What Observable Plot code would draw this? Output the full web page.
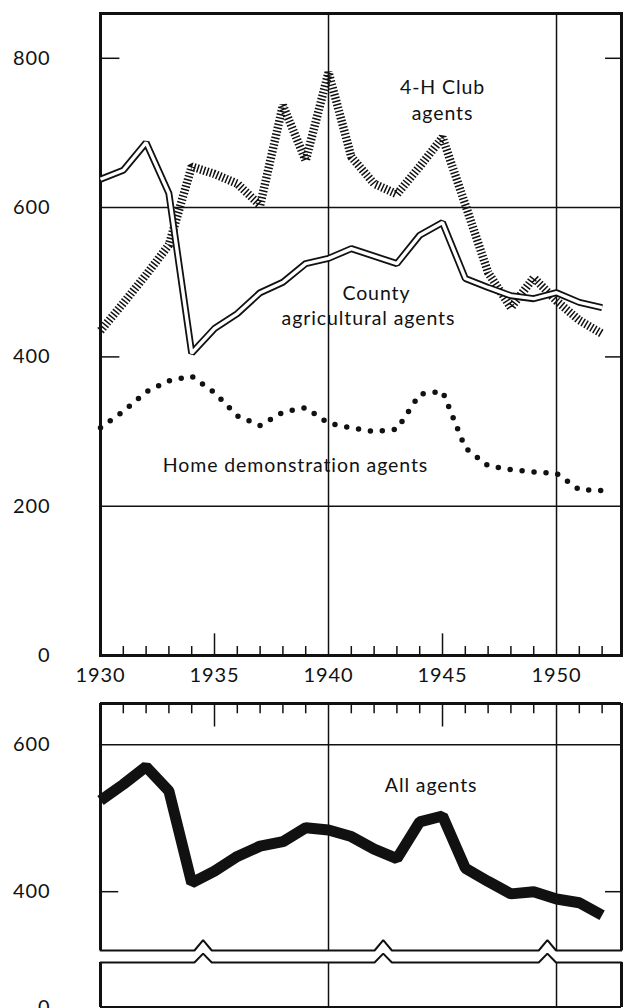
<!DOCTYPE html>
<html><head><meta charset="utf-8">
<script src="https://cdn.jsdelivr.net/npm/d3@7"></script>
<script src="https://cdn.jsdelivr.net/npm/@observablehq/plot@0.6"></script>
<style>
html,body{margin:0;padding:0;background:#fff;overflow:hidden;width:623px;height:1008px;}
#wrap{position:relative;width:623px;height:1008px;}
#wrap svg{position:absolute;left:0;}
svg text{letter-spacing:0.9px;}
</style></head><body><div id="wrap"></div>
<script>
// ---- data ----
const years = [1930,1931,1932,1933,1934,1935,1936,1937,1938,1939,1940,1941,1942,1943,1944,1945,1946,1947,1948,1949,1950,1951,1952];
const countyAgents = [638,650,687,619,405,438,458,486,500,525,532,545,535,525,563,580,505,493,482,478,486,473,466];
const clubAgents   = [435,472,510,550,655,645,632,603,737,663,781,668,632,618,655,694,604,513,466,506,475,449,431];
const homeAgents   = [305,327,353,368,374,352,321,308,326,332,311,305,300,303,350,354,278,254,249,246,244,222,221];
const allAgents    = [524,546,570,537,412,428,448,462,468,487,484,475,458,445,495,503,432,414,397,400,390,385,368];
const xTickLabels = [1930,1935,1940,1945,1950];
const gridYears = [1940,1950];
const midYears = [1935,1945];
const yTicksTop = [0,200,400,600,800];
const yGridTop = [600,200];
const yShortTop = [800,400];
const yTicksAll = [400,600];
const yGridAll = [600];
const yShortAll = [400];
const breakYears = [1934.5,1942.4,1949.6];

// ---- helpers ----
const xDomain = [1930, 1952.85];
const series = vals => years.map((y,i)=>({year:y, v:vals[i]}));
const minorYears = years.filter(y => y !== 1930 && !xTickLabels.includes(y));
const ink = "#111";
const labelSize = 19.5;
const style = {fontFamily:"Lato, 'Open Sans', sans-serif", fontSize:"20px", color:ink, background:"transparent", overflow:"visible"};
const breakPts = (base, h) => {
  const pts = [{x:xDomain[0], y:base}];
  breakYears.forEach(b => { pts.push({x:b-0.38,y:base},{x:b,y:base+h},{x:b+0.38,y:base}); });
  pts.push({x:xDomain[1], y:base});
  return pts;
};
const wrap = document.getElementById("wrap");

// ---- top chart ----
const topChart = Plot.plot({
  width:623, height:690, marginLeft:100, marginRight:2, marginTop:13, marginBottom:35,
  style,
  x:{domain:xDomain, ticks:xTickLabels, tickFormat:d=>String(d), tickSize:0, tickPadding:12, label:null},
  y:{domain:[0,860], ticks:yTicksTop, tickSize:0, tickPadding:50, label:null},
  marks:[
    Plot.ruleY(yGridTop, {stroke:ink, strokeWidth:1.5}),
    Plot.ruleX(gridYears, {stroke:ink, strokeWidth:1.5}),
    Plot.ruleY(yShortTop, {y:d=>d, x1:xDomain[0], x2:xDomain[0]+0.85, stroke:ink, strokeWidth:1.5}),
    Plot.ruleY(yShortTop, {y:d=>d, x1:xDomain[1]-0.7, x2:xDomain[1], stroke:ink, strokeWidth:1.5}),
    Plot.ruleX(minorYears, {x:d=>d, y1:0, y2:12, stroke:ink, strokeWidth:1.5}),
    Plot.ruleX(midYears, {x:d=>d, y1:0, y2:29, stroke:ink, strokeWidth:1.5}),
    Plot.frame({stroke:ink, strokeWidth:3}),
    Plot.line(series(homeAgents), {x:"year", y:"v", stroke:ink, strokeWidth:5.5, strokeDasharray:"0,12", strokeLinecap:"round"}),
    Plot.line(series(clubAgents), {x:"year", y:"v", stroke:ink, strokeWidth:8.5, strokeDasharray:"1.5,1.9", strokeLinecap:"butt", strokeLinejoin:"miter"}),
    Plot.line(series(countyAgents), {x:"year", y:"v", stroke:ink, strokeWidth:7, strokeLinecap:"butt", strokeLinejoin:"miter"}),
    Plot.line(series(countyAgents), {x:"year", y:"v", stroke:"white", strokeWidth:3.4, strokeLinecap:"butt", strokeLinejoin:"miter"}),
    Plot.text(["4-H Club"], {x:1945, y:760, text:d=>d, fontSize:labelSize, fill:ink}),
    Plot.text(["agents"], {x:1945, y:726, text:d=>d, fontSize:labelSize, fill:ink}),
    Plot.text(["County"], {x:1942.1, y:484, text:d=>d, fontSize:labelSize, fill:ink}),
    Plot.text(["agricultural agents"], {x:1941.75, y:451, text:d=>d, fontSize:labelSize, fill:ink}),
    Plot.text(["Home demonstration agents"], {x:1938.55, y:254, text:d=>d, fontSize:labelSize, fill:ink})
  ]
});
topChart.style.top = "0px";
wrap.appendChild(topChart);

// ---- bottom chart, upper part ----
const allTop = Plot.plot({
  width:623, height:264, marginLeft:100, marginRight:2, marginTop:13, marginBottom:4,
  style,
  x:{domain:xDomain, axis:null},
  y:{domain:[320,656], ticks:yTicksAll, tickSize:0, tickPadding:50, label:null},
  marks:[
    Plot.ruleY(yGridAll, {stroke:ink, strokeWidth:1.5}),
    Plot.ruleX(gridYears, {stroke:ink, strokeWidth:1.5}),
    Plot.ruleY(yShortAll, {y:d=>d, x1:xDomain[0], x2:xDomain[0]+0.8, stroke:ink, strokeWidth:1.5}),
    Plot.ruleY(yShortAll, {y:d=>d, x1:xDomain[1]-0.7, x2:xDomain[1], stroke:ink, strokeWidth:1.5}),
    Plot.ruleX(minorYears, {x:d=>d, y1:656, y2:642, stroke:ink, strokeWidth:1.5}),
    Plot.ruleX(midYears, {x:d=>d, y1:656, y2:624, stroke:ink, strokeWidth:1.5}),
    Plot.ruleY([656], {stroke:ink, strokeWidth:3}),
    Plot.ruleX(xDomain, {y1:320, y2:656, stroke:ink, strokeWidth:3}),
    Plot.line(breakPts(320, 14), {x:"x", y:"y", stroke:ink, strokeWidth:2, strokeLinejoin:"miter"}),
    Plot.line(series(allAgents), {x:"year", y:"v", stroke:ink, strokeWidth:11, strokeLinecap:"butt", strokeLinejoin:"miter"}),
    Plot.text(["All agents"], {x:1944.5, y:544, text:d=>d, fontSize:labelSize, fill:ink})
  ]
});
allTop.style.top = "690px";
wrap.appendChild(allTop);

// ---- bottom chart, lower part (below the break) ----
const allLow = Plot.plot({
  width:623, height:70, marginLeft:100, marginRight:2, marginTop:14, marginBottom:11,
  style,
  x:{domain:xDomain, axis:null},
  y:{domain:[0,61], ticks:[0], tickSize:0, tickPadding:50, label:null},
  marks:[
    Plot.ruleX(gridYears, {stroke:ink, strokeWidth:1.5}),
    Plot.ruleX(xDomain, {y1:0, y2:61, stroke:ink, strokeWidth:3}),
    Plot.ruleY([0], {stroke:ink, strokeWidth:3}),
    Plot.line(breakPts(61, 12), {x:"x", y:"y", stroke:ink, strokeWidth:2, strokeLinejoin:"miter"})
  ]
});
allLow.style.top = "948px";
wrap.appendChild(allLow);
</script></body></html>
